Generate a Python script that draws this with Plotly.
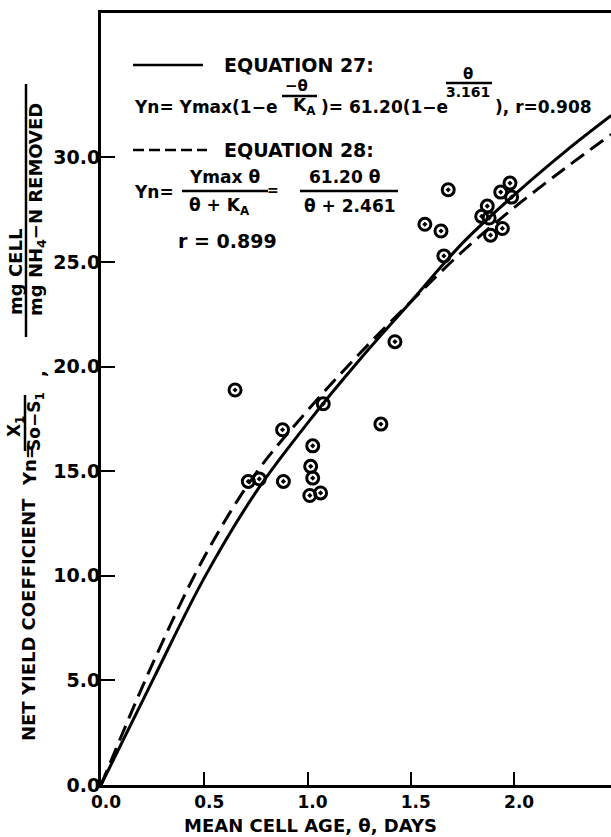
import plotly.graph_objects as go

# Observed net yield coefficient vs. mean cell age
theta_obs = [0.649, 0.713, 0.766, 0.879, 0.883, 1.011, 1.015, 1.025, 1.025, 1.063,
             1.076, 1.355, 1.423, 1.568, 1.646, 1.660, 1.681, 1.843, 1.870, 1.879,
             1.886, 1.935, 1.943, 1.980, 1.988]
yn_obs = [18.88, 14.51, 14.63, 16.98, 14.51, 13.84, 15.23, 16.21, 14.67, 13.96,
          18.22, 17.25, 21.19, 26.80, 26.48, 25.29, 28.45, 27.18, 27.67, 27.10,
          26.28, 28.34, 26.60, 28.77, 28.10]

# Fitted curves (Equation 27 solid, Equation 28 dashed)
theta_fit = [0.0, 0.25, 0.5, 0.75, 1.0, 1.25, 1.5, 1.75, 2.0, 2.25, 2.47]
yn_eq27 = [0.0, 5.0, 9.9, 14.0, 17.3, 20.3, 23.1, 25.9, 28.2, 30.3, 32.0]
yn_eq28 = [0.0, 5.8, 10.9, 14.9, 17.9, 20.6, 23.1, 25.5, 27.6, 29.5, 31.1]

# Axis ticks
x_ticks = [0.0, 0.5, 1.0, 1.5, 2.0]
x_tick_text = ["0.0", "0.5", "1.0", "1.5", "2.0"]
y_ticks = [0, 5, 10, 15, 20, 25, 30]
y_tick_text = ["0.0", "5.0", "10.0", "15.0", "20.0", "25.0", "30.0"]

W, H = 611, 837
L, R, T, B = 101, 611, 13, 785
FONT = "DejaVu Sans"


def px(x):
    return (x - L) / (R - L)


def py(y):
    return (B - y) / (B - T)


fig = go.Figure()
fig.add_trace(go.Scatter(x=theta_fit, y=yn_eq27, mode="lines", line_shape="spline",
                         line=dict(color="black", width=3)))
fig.add_trace(go.Scatter(x=theta_fit, y=yn_eq28, mode="lines", line_shape="spline",
                         line=dict(color="black", width=3, dash="16px,8px")))
fig.add_trace(go.Scatter(x=theta_obs, y=yn_obs, mode="markers",
                         marker=dict(symbol="circle-open-dot", size=12, color="black",
                                     line=dict(color="black", width=3))))

annos = []
shapes = []


def text(x, y, s, size=17, xanchor="left", yanchor="middle", angle=0):
    annos.append(dict(x=px(x), y=py(y), xref="paper", yref="paper", text=s,
                      showarrow=False, xanchor=xanchor, yanchor=yanchor,
                      textangle=angle,
                      font=dict(family=FONT, size=size, color="black", weight=700)))


def bar(x0, y0, x1, y1, width=2.5, dash=None):
    ln = dict(color="black", width=width)
    if dash:
        ln["dash"] = dash
    shapes.append(dict(type="line", xref="paper", yref="paper",
                       x0=px(x0), y0=py(y0), x1=px(x1), y1=py(y1), line=ln))


# Equation 27 block
bar(133, 65, 203, 65, width=2.5)
text(222, 65, "EQUATION 27:", size=19)
text(132, 107, "Yn= Ymax(1−e", size=17)
text(296, 86, "−θ", size=15, xanchor="center")
bar(282, 96, 317, 96, width=2.5)
text(304, 107, "K<sub>A</sub>", size=17, xanchor="center")
text(319, 107, ")= 61.20(1−e", size=17)
text(468, 74, "θ", size=15, xanchor="center")
bar(446, 83, 492, 83, width=2.5)
text(468, 92, "3.161", size=14, xanchor="center")
text(493, 107, "), r=0.908", size=17)

# Equation 28 block
bar(133, 150, 207, 150, width=2.5, dash="11px,5px")
text(222, 150, "EQUATION 28:", size=19)
text(132, 192, "Yn=", size=17)
text(224, 177, "Ymax θ", size=17, xanchor="center")
bar(182, 191, 268, 191, width=2.5)
text(219, 206, "θ + K<sub>A</sub>", size=17, xanchor="center")
text(273, 190, "=", size=14, xanchor="center")
text(344, 177, "61.20 θ", size=17, xanchor="center")
bar(300, 191, 398, 191, width=2.5)
text(350, 206, "θ + 2.461", size=17, xanchor="center")
text(176, 241, "r = 0.899", size=19)

# Y-axis title (rotated)
text(28, 620, "NET YIELD COEFFICIENT", size=18, xanchor="center", angle=-90)
text(29, 465, "Yn=", size=18, xanchor="center", angle=-90)
text(15, 427, "X<sub>1</sub>", size=17, xanchor="center", angle=-90)
bar(25, 451, 25, 395, width=2.5)
text(35, 422, "So−S<sub>1</sub>", size=17, xanchor="center", angle=-90)
text(38, 374, ",", size=18, xanchor="center", angle=-90)
text(15, 272, "mg CELL", size=18, xanchor="center", angle=-90)
bar(26, 337, 26, 84, width=2.5)
text(37, 210, "mg NH<sub>4</sub>−N REMOVED", size=18, xanchor="center", angle=-90)

# X-axis title
text(310, 825, "MEAN CELL AGE, θ, DAYS", size=18, xanchor="center")

fig.update_layout(
    width=W, height=H,
    margin=dict(l=L, r=W - R, t=T, b=H - B),
    paper_bgcolor="white", plot_bgcolor="white",
    showlegend=False,
    annotations=annos, shapes=shapes,
    xaxis=dict(range=[0, 2.469], tickvals=x_ticks, ticktext=x_tick_text,
               showgrid=False, zeroline=False, showline=True, linewidth=3,
               linecolor="black", mirror=True, ticks="inside", ticklen=13,
               tickwidth=2, tickcolor="black", ticklabelshift=5,
               tickfont=dict(family=FONT, size=17, color="black", weight=700)),
    yaxis=dict(range=[0, 36.9], tickvals=y_ticks, ticktext=y_tick_text,
               showgrid=False, zeroline=False, showline=True, linewidth=3,
               linecolor="black", ticks="inside", ticklen=14, tickwidth=2,
               tickcolor="black", ticklabelstandoff=-6,
               tickfont=dict(family=FONT, size=19, color="black", weight=700)),
)

fig.write_html("out.html")
